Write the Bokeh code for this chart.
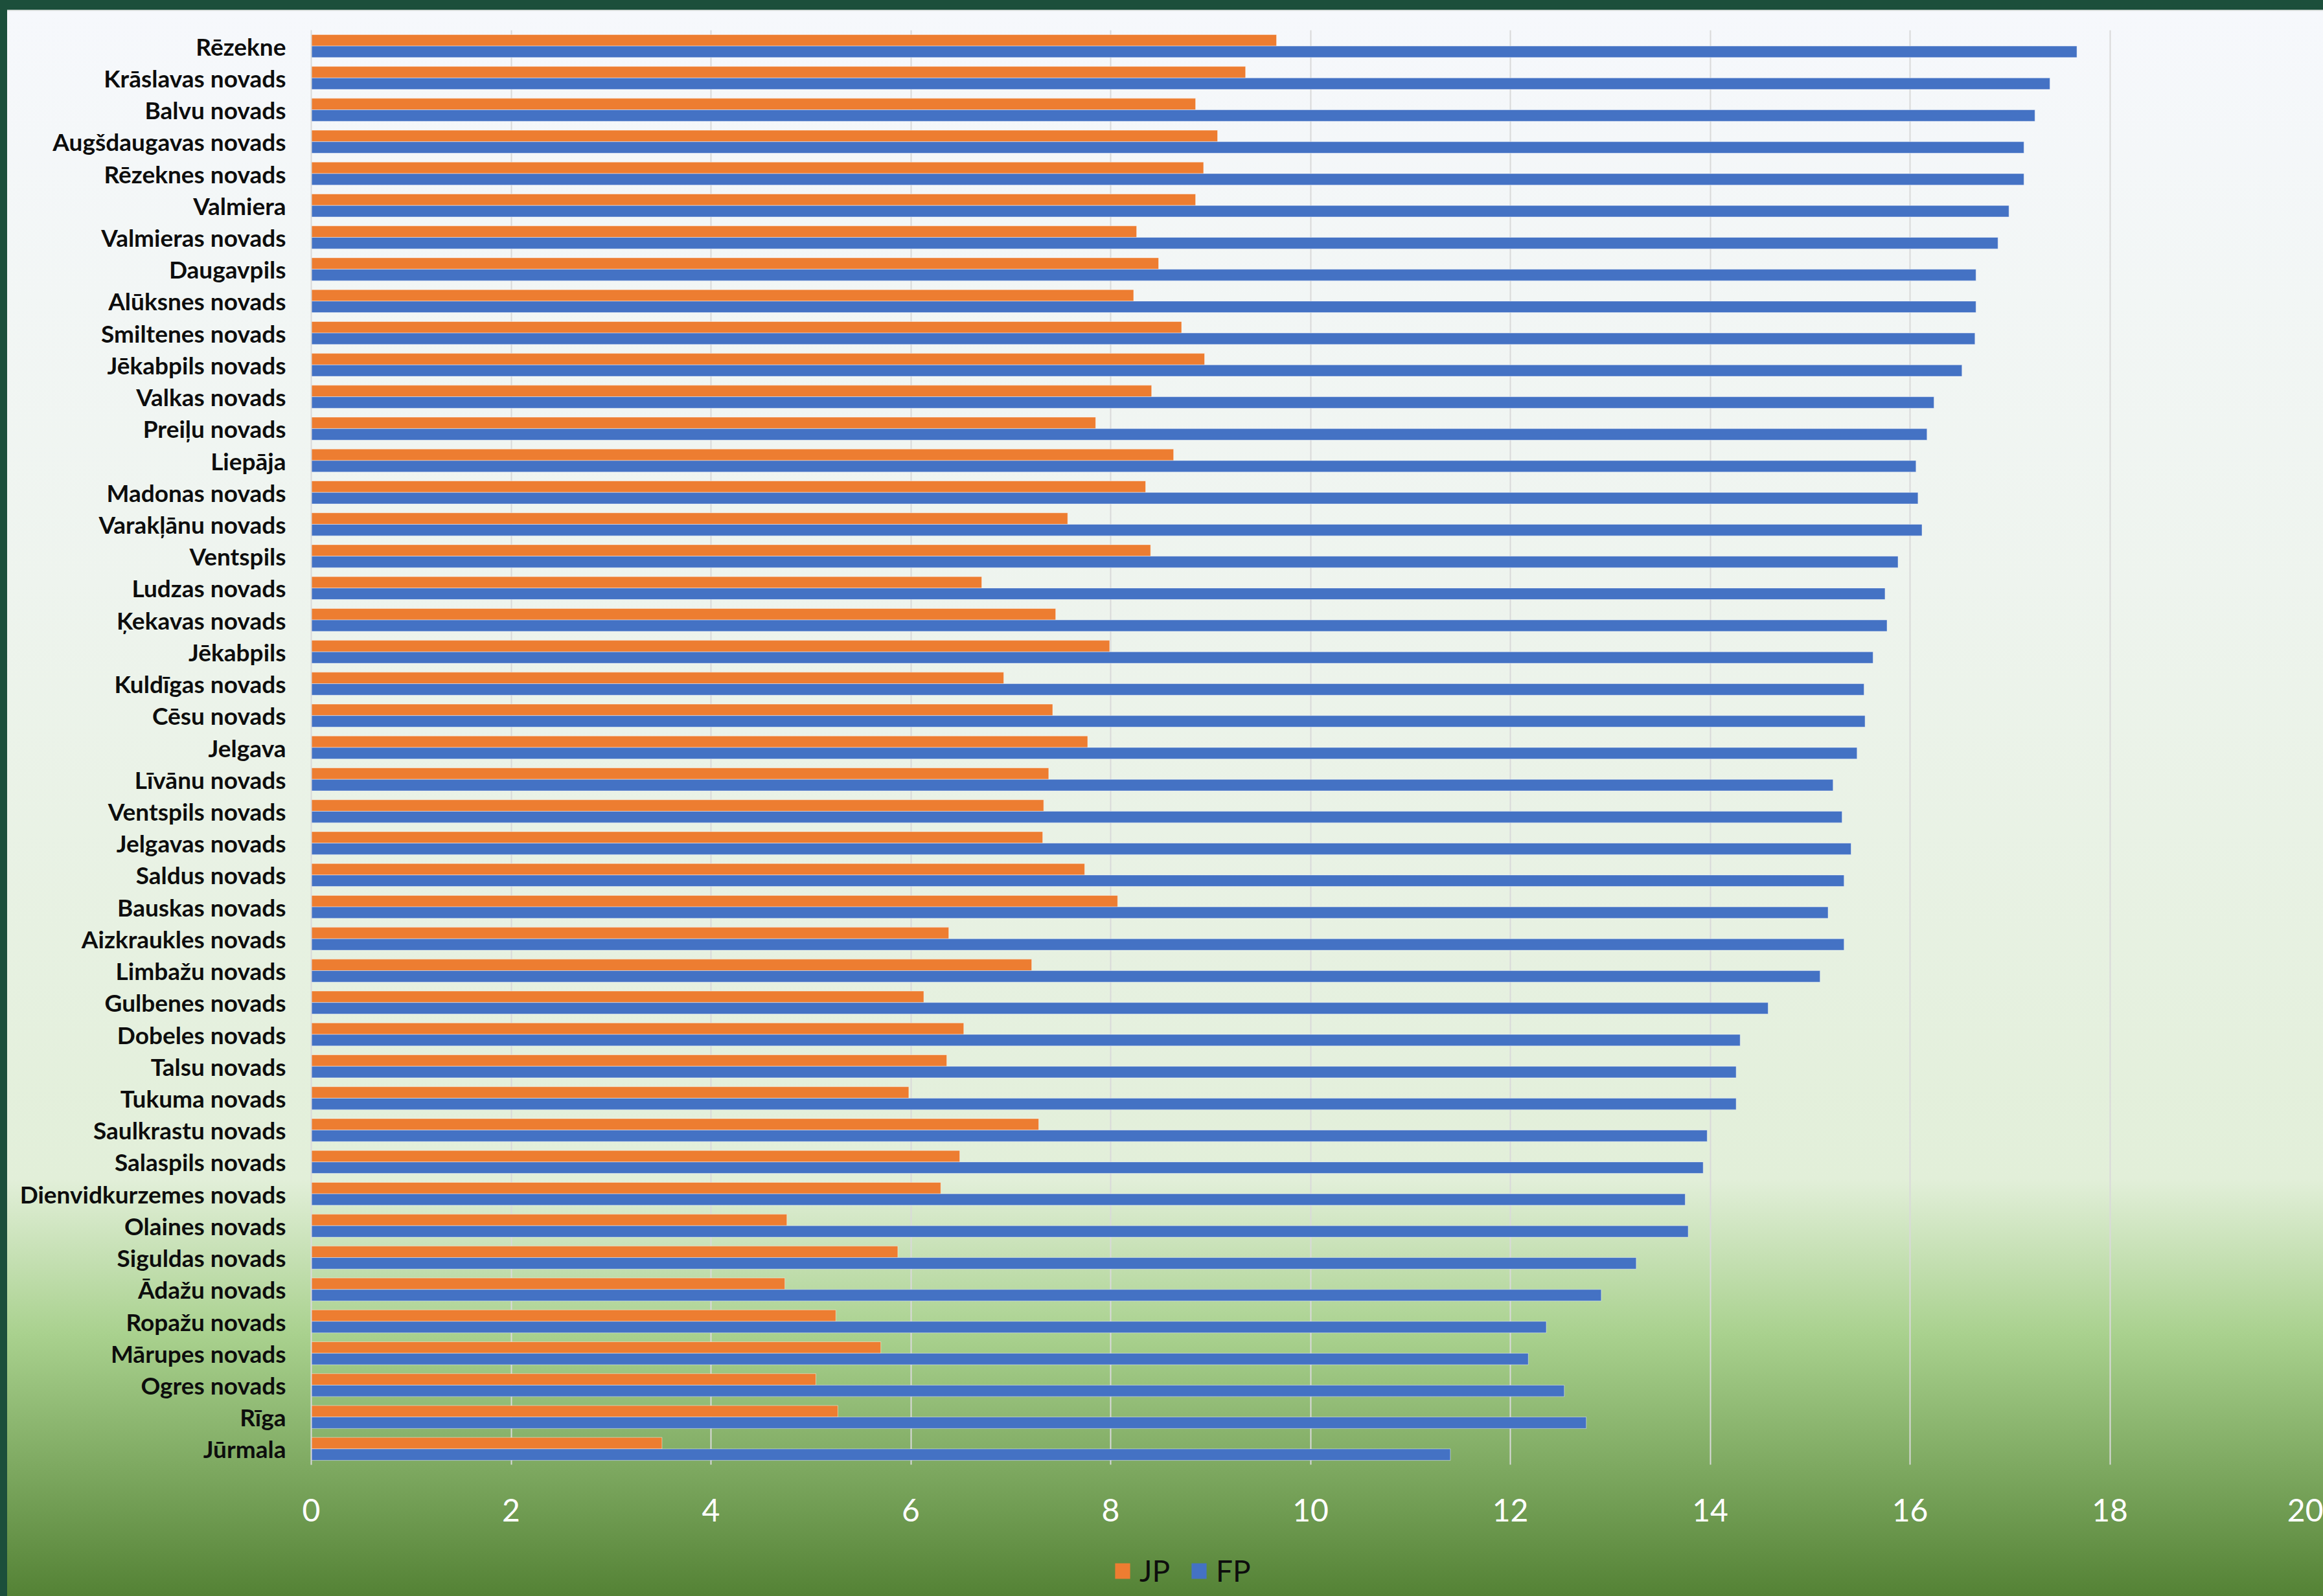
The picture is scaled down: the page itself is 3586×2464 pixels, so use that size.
from bokeh.plotting import figure
from bokeh.layouts import column
from bokeh.models import (ColumnDataSource, FactorRange, Range1d, FixedTicker,
                          Legend, LegendItem, GlobalInlineStyleSheet)
from bokeh.transform import dodge
from bokeh.embed import file_html
from bokeh.resources import INLINE

categories = [
    "Rēzekne", "Krāslavas novads", "Balvu novads", "Augšdaugavas novads",
    "Rēzeknes novads", "Valmiera", "Valmieras novads", "Daugavpils",
    "Alūksnes novads", "Smiltenes novads", "Jēkabpils novads", "Valkas novads",
    "Preiļu novads", "Liepāja", "Madonas novads", "Varakļānu novads",
    "Ventspils", "Ludzas novads", "Ķekavas novads", "Jēkabpils",
    "Kuldīgas novads", "Cēsu novads", "Jelgava", "Līvānu novads",
    "Ventspils novads", "Jelgavas novads", "Saldus novads", "Bauskas novads",
    "Aizkraukles novads", "Limbažu novads", "Gulbenes novads", "Dobeles novads",
    "Talsu novads", "Tukuma novads", "Saulkrastu novads", "Salaspils novads",
    "Dienvidkurzemes novads", "Olaines novads", "Siguldas novads", "Ādažu novads",
    "Ropažu novads", "Mārupes novads", "Ogres novads", "Rīga", "Jūrmala",
]

jp_values = [
    9.66, 9.35, 8.85, 9.07, 8.93, 8.85, 8.26, 8.48, 8.23, 8.71,
    8.94, 8.41, 7.85, 8.63, 8.35, 7.57, 8.40, 6.71, 7.45, 7.99,
    6.93, 7.42, 7.77, 7.38, 7.33, 7.32, 7.74, 8.07, 6.38, 7.21,
    6.13, 6.53, 6.36, 5.98, 7.28, 6.49, 6.30, 4.76, 5.87, 4.74,
    5.25, 5.70, 5.05, 5.27, 3.51,
]

fp_values = [
    17.67, 17.40, 17.25, 17.14, 17.14, 16.99, 16.88, 16.66, 16.66, 16.65,
    16.52, 16.24, 16.17, 16.06, 16.08, 16.12, 15.88, 15.75, 15.77, 15.63,
    15.54, 15.55, 15.47, 15.23, 15.32, 15.41, 15.34, 15.18, 15.34, 15.10,
    14.58, 14.30, 14.26, 14.26, 13.97, 13.93, 13.75, 13.78, 13.26, 12.91,
    12.36, 12.18, 12.54, 12.76, 11.40,
]

series_names = ["JP", "FP"]
series_colors = ["#ED7D31", "#4472C4"]
x_ticks = [0, 2, 4, 6, 8, 10, 12, 14, 16, 18, 20]

LABEL_FONT = "Lato"

page_css = """
html, body { margin: 0; padding: 0; }
html {
  min-height: 2464px;
  background-color: #548235;
  background-repeat: no-repeat;
  background-image:
    linear-gradient(to right, #1c4f3b 0px, #1c4f3b 11px, rgba(0,0,0,0) 11px),
    linear-gradient(to bottom, #1c4f3b 0px, #1c4f3b 15px, #d6dcd9 15px, #d6dcd9 17px,
                    #f6f8fc 17px, #eef4ee 900px, #e2efd9 1820px, #a9d18e 2060px, #548235 2464px);
  background-size: 100% 2464px;
}
body { background: transparent; }
"""

source = ColumnDataSource(data=dict(cat=categories, jp=jp_values, fp=fp_values))

# ---- main chart ----
p = figure(
    width=3586, height=2380,
    y_range=FactorRange(factors=categories[::-1], range_padding=0),
    x_range=Range1d(0, 20),
    output_backend="svg", toolbar_location=None,
    min_border_left=480, min_border_right=21,
    min_border_top=46, min_border_bottom=119,
)
p.stylesheets = [GlobalInlineStyleSheet(css=page_css)]
p.background_fill_alpha = 0
p.border_fill_alpha = 0
p.outline_line_color = None

bar_style = dict(line_color="white", line_alpha=0.45, line_width=1)
p.hbar(y=dodge("cat", 0.18, range=p.y_range), right="jp", left=0, height=0.36,
       source=source, fill_color=series_colors[0], **bar_style)
p.hbar(y=dodge("cat", -0.18, range=p.y_range), right="fp", left=0, height=0.36,
       source=source, fill_color=series_colors[1], **bar_style)

# x axis
p.xaxis.ticker = FixedTicker(ticks=x_ticks)
p.xaxis.axis_line_color = None
p.xaxis.major_tick_line_color = None
p.xaxis.minor_tick_line_color = None
p.xaxis.major_label_text_color = "white"
p.xaxis.major_label_text_font = LABEL_FONT
p.xaxis.major_label_text_font_size = "48px"
p.xaxis.major_label_standoff = 46

# y axis
p.yaxis.axis_line_color = "#d9d9d9"
p.yaxis.axis_line_width = 2
p.yaxis.major_tick_line_color = None
p.yaxis.minor_tick_line_color = None
p.yaxis.major_label_text_font = LABEL_FONT
p.yaxis.major_label_text_font_style = "bold"
p.yaxis.major_label_text_font_size = "37px"
p.yaxis.major_label_text_color = "#0d0d0d"
p.yaxis.major_label_standoff = 33

p.xgrid.grid_line_color = "#d9d9d9"
p.xgrid.grid_line_width = 2
p.ygrid.grid_line_color = None

# ---- legend strip below the chart (hidden proxy renderers of the same data) ----
pl = figure(
    width=3586, height=84,
    x_range=Range1d(0, 20),
    y_range=FactorRange(factors=categories[::-1], range_padding=0),
    output_backend="svg", toolbar_location=None,
    x_axis_type=None, y_axis_type=None,
    min_border_left=480, min_border_right=21,
    min_border_top=0, min_border_bottom=0,
)
pl.background_fill_alpha = 0
pl.border_fill_alpha = 0
pl.outline_line_color = None
pl.xgrid.grid_line_color = None
pl.ygrid.grid_line_color = None

k_jp = pl.hbar(y="cat", right="jp", left=0, height=0.36, source=source,
               fill_color=series_colors[0], line_color=None, visible=False)
k_fp = pl.hbar(y="cat", right="fp", left=0, height=0.36, source=source,
               fill_color=series_colors[1], line_color=None, visible=False)

legend = Legend(
    items=[LegendItem(label=series_names[0], renderers=[k_jp]),
           LegendItem(label=series_names[1], renderers=[k_fp])],
    orientation="horizontal",
    location=(1238, 12),
    glyph_width=29, glyph_height=30,
    label_standoff=12, spacing=30,
    padding=4, margin=0,
    label_text_font=LABEL_FONT, label_text_font_size="46px",
    label_text_color="#0d0d0d",
    inactive_fill_alpha=0,
    background_fill_alpha=0, border_line_color=None,
)
pl.add_layout(legend, "center")

layout = column(p, pl, spacing=0)

open("out.html", "w").write(file_html(layout, INLINE))
